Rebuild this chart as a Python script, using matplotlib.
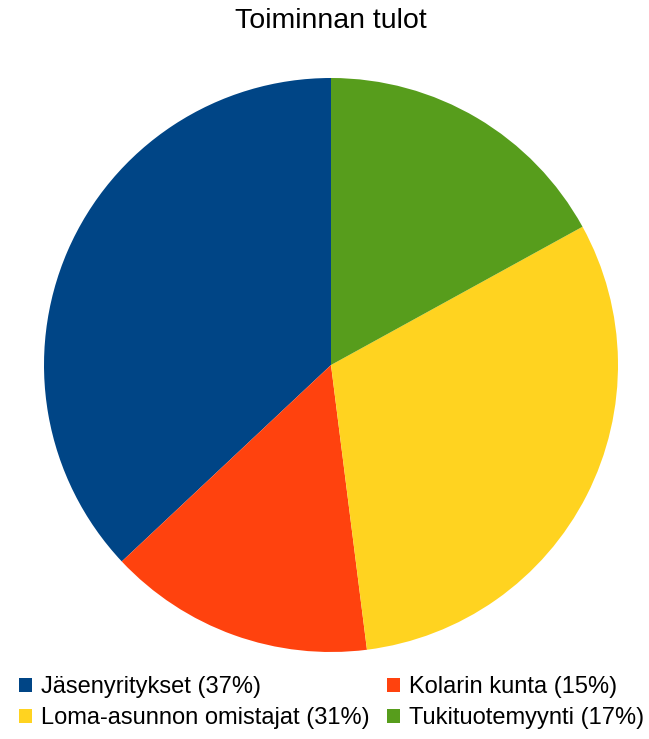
import matplotlib.pyplot as plt
from matplotlib.patches import Patch

plt.rcParams['font.family'] = ['Liberation Sans', 'DejaVu Sans']

# data, counterclockwise from 12 o'clock
labels = ['Jäsenyritykset', 'Kolarin kunta', 'Loma-asunnon omistajat', 'Tukituotemyynti']
shares = [37, 15, 31, 17]
colors = ['#004586', '#ff420e', '#ffd320', '#579d1c']

fig = plt.figure(figsize=(6.49, 7.39), dpi=100)
ax = fig.add_axes([44 / 649, 1 - 652 / 739, 574 / 649, 574 / 739])
ax.pie(shares, colors=colors, startangle=90, counterclock=True,
       wedgeprops=dict(linewidth=0))
ax.set_aspect('equal')
ax.set_xlim(-1, 1)
ax.set_ylim(-1, 1)

fig.text(331 / 649, 1 - 21 / 739, 'Toiminnan tulot', ha='center', va='center', fontsize=20.5)

# legend rows: (Jäs, Kolarin), (Loma, Tuki) -> column-major order for matplotlib
order = [0, 2, 1, 3]
handles = [Patch(facecolor=colors[i], edgecolor='none', label='%s (%d%%)' % (labels[i], shares[i]))
           for i in order]
fig.legend(handles=handles, ncol=2, loc='upper left', bbox_to_anchor=(19 / 649, 1 - 676 / 739),
           frameon=False, fontsize=17, handlelength=0.55, handleheight=0.55, handletextpad=0.4,
           columnspacing=0.7, labelspacing=0.38, borderaxespad=0, borderpad=0)

fig.savefig('out.png', dpi=100)
